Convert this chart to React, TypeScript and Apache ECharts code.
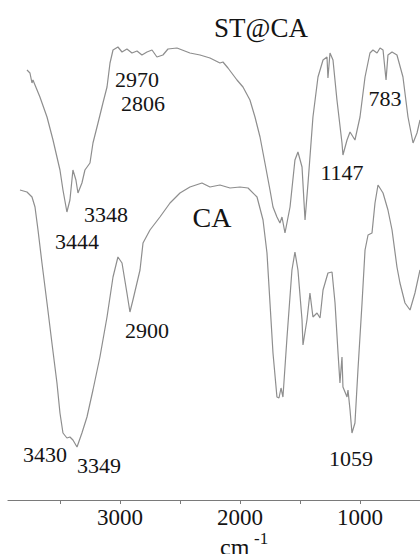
import React, { useEffect, useRef } from "react";
import * as echarts from "echarts";

// Wavenumbers (cm-1) and transmittance (arbitrary %)
const stcaWavenumber = [
  3775, 3750, 3733, 3725, 3708, 3667, 3608, 3558, 3500, 3475, 3442, 3417, 3392, 3367, 3350, 3317,
  3292, 3250, 3225, 3183, 3142, 3108, 3083, 3058, 3017, 2983, 2942, 2900, 2858, 2817, 2775, 2733,
  2692, 2642, 2600, 2525, 2417, 2333, 2250, 2167, 2142, 2100, 2025, 1975, 1917, 1875, 1833, 1792,
  1750, 1725, 1692, 1667, 1650, 1625, 1583, 1542, 1517, 1483, 1458, 1433, 1392, 1350, 1308, 1275,
  1267, 1250, 1225, 1192, 1150, 1142, 1108, 1083, 1042, 1000, 958, 917, 892, 858, 833, 808, 783,
  767, 733, 692, 642, 600, 558, 525, 500,
];
const stcaTransmittance = [
  86, 85.4, 83.4, 84, 83, 80.6, 76.6, 72, 66, 62, 57.6, 60, 66, 64, 61.4, 63.4,
  66, 67.4, 71.4, 75.4, 79.4, 82.6, 87.4, 90, 90.6, 89.6, 90.2, 89.4, 89.8, 89, 89.6, 90,
  88.6, 89, 90.2, 90.4, 89.4, 89, 88.4, 87.4, 87.6, 86.4, 84, 82.6, 80, 76.6, 72.6, 67.4,
  62, 58.6, 56.6, 55.4, 56.6, 53.4, 58.6, 68, 69.6, 66.6, 56, 63.4, 76.6, 84.6, 88, 88.6,
  84.4, 89.4, 88, 80, 71.4, 69, 72, 73.6, 72, 76.6, 84.6, 89.4, 90, 89.4, 90.4, 90, 84,
  89, 89.6, 89, 84.6, 76.6, 71.4, 73.4, 76,
];

const caWavenumber = [
  3833, 3775, 3733, 3708, 3683, 3650, 3608, 3567, 3525, 3500, 3475, 3442, 3417, 3392, 3358, 3317,
  3275, 3225, 3167, 3108, 3058, 3017, 2983, 2942, 2917, 2892, 2833, 2808, 2750, 2667, 2583, 2500,
  2417, 2317, 2250, 2167, 2083, 2000, 1933, 1858, 1808, 1775, 1750, 1725, 1692, 1675, 1658, 1642,
  1608, 1567, 1542, 1517, 1483, 1475, 1442, 1417, 1392, 1358, 1333, 1308, 1267, 1233, 1208, 1183,
  1167, 1150, 1142, 1108, 1100, 1083, 1067, 1042, 1017, 983, 958, 933, 900, 875, 850, 808, 767,
  733, 692, 667, 625, 583, 542, 500,
];
const caTransmittance = [
  62, 61.6, 60.6, 58.6, 54, 47.4, 39.4, 31.4, 23.4, 17.4, 13.4, 12.4, 12.6, 12, 10.6, 13.4,
  16.6, 22, 28.6, 36.6, 44.6, 48.6, 47.4, 41.4, 37.6, 40, 46, 51.4, 54, 56.6, 59.4, 61.4,
  62.6, 63.4, 62.6, 63, 62.4, 62.6, 62.4, 60.6, 56, 49.4, 39.4, 29.4, 20.6, 20.4, 22.4, 20.6,
  32.6, 46, 49.6, 46, 36, 31, 36, 41.4, 36.6, 37.4, 36.4, 42, 45.4, 45.6, 39.4, 29.4,
  23.4, 28.6, 22.6, 20.6, 22, 18, 13.4, 15.4, 26, 39.4, 50, 53, 53.4, 59.4, 63, 61.4, 58,
  54, 46.6, 43.4, 39.4, 38, 41.4, 46,
];

const tickValues = [1000, 1500, 2000, 2500, 3000, 3500];
const labelValues = [1000, 2000, 3000];

const FONT = "Liberation Serif";
const TEXT_COLOR = "#141414";
const LINE_COLOR = "#8e8e8e";

export default function App() {
  const ref = useRef<HTMLDivElement>(null);

  useEffect(() => {
    if (!ref.current) return;
    const chart = echarts.init(ref.current, null, { renderer: "svg" });

    const zip = (xs: number[], ys: number[]) => xs.map((x, i) => [x, ys[i]]);

    const txt = (text: string, x: number, y: number, size: number, align = "center", va = "middle") => ({
      type: "text",
      x,
      y,
      style: {
        text,
        fill: TEXT_COLOR,
        fontFamily: FONT,
        fontSize: size,
        align,
        verticalAlign: va,
      },
    });

    chart.setOption({
      animation: false,
      backgroundColor: "#ffffff",
      grid: { left: 8, right: 0, top: 0, bottom: 54, containLabel: false },
      xAxis: {
        type: "value",
        inverse: true,
        min: 500,
        max: 3933,
        splitLine: { show: false },
        axisLine: { lineStyle: { color: "#7a7a7a", width: 1.2 } },
        axisTick: {
          show: true,
          inside: false,
          length: 4,
          customValues: tickValues,
          lineStyle: { color: "#7a7a7a", width: 1 },
        },
        axisLabel: {
          customValues: labelValues,
          formatter: (v: number) => String(v),
          color: TEXT_COLOR,
          fontFamily: FONT,
          fontSize: 23,
          margin: 6,
        },
      },
      yAxis: {
        type: "value",
        min: 0,
        max: 100,
        show: false,
        splitLine: { show: false },
      },
      series: [
        {
          name: "ST@CA",
          type: "line",
          data: zip(stcaWavenumber, stcaTransmittance),
          showSymbol: false,
          symbol: "none",
          lineStyle: { color: LINE_COLOR, width: 1.2 },
        },
        {
          name: "CA",
          type: "line",
          data: zip(caWavenumber, caTransmittance),
          showSymbol: false,
          symbol: "none",
          lineStyle: { color: LINE_COLOR, width: 1.2 },
        },
      ],
      graphic: [
        txt("ST@CA", 261, 28, 27),
        txt("CA", 212, 217, 28),
        txt("2970", 137, 79, 22),
        txt("2806", 143, 103, 22),
        txt("3348", 106, 214, 22),
        txt("3444", 77, 241, 22),
        txt("1147", 342, 172, 22),
        txt("783", 385, 98, 22),
        txt("2900", 147, 330, 22),
        txt("3430", 45, 454, 22),
        txt("3349", 99, 465, 22),
        txt("1059", 351, 458, 22),
        txt("cm", 220, 559, 24, "left", "bottom"),
        txt("-1", 254, 530, 17, "left", "top"),
      ],
    });

    return () => chart.dispose();
  }, []);

  return <div ref={ref} style={{ width: 420, height: 554, position: "absolute", left: 0, top: 0 }} />;
}
